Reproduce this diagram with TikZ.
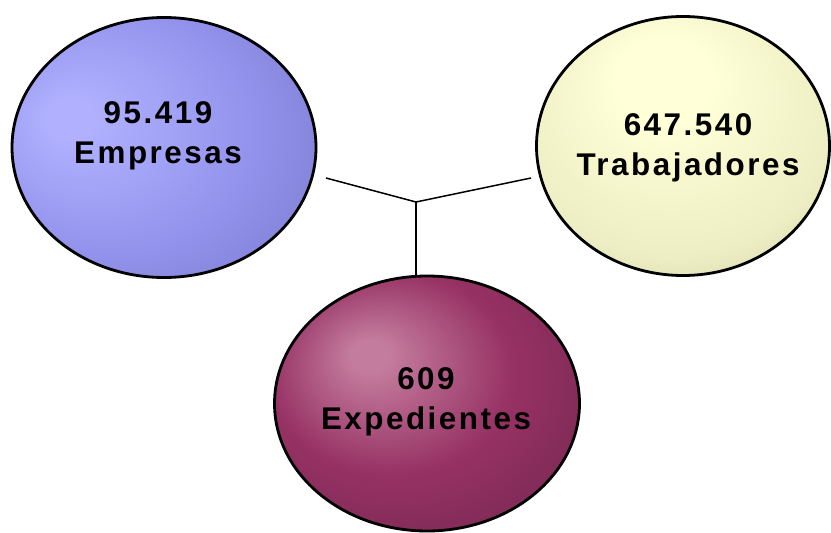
\documentclass[tikz,border=0pt]{standalone}
\usepackage{fontspec}
\newfontfamily\lblfont[LetterSpace=8]{Liberation Sans}
\usetikzlibrary{shapes.geometric}
\definecolor{empHi}{RGB}{176,176,255}
\definecolor{empMid}{RGB}{146,146,236}
\definecolor{empLo}{RGB}{104,104,182}
\definecolor{trabHi}{RGB}{255,255,216}
\definecolor{trabMid}{RGB}{238,238,196}
\definecolor{trabLo}{RGB}{178,178,140}
\definecolor{expHi}{RGB}{196,124,158}
\definecolor{expMid}{RGB}{150,50,100}
\definecolor{expLo}{RGB}{94,30,66}
\pgfdeclareradialshading{empball}{\pgfpoint{-17bp}{6bp}}{color(0bp)=(empHi); color(4bp)=(empHi); color(24bp)=(empMid); color(50bp)=(empLo)}
\pgfdeclareradialshading{trabball}{\pgfpoint{-4bp}{15bp}}{color(0bp)=(trabHi); color(8bp)=(trabHi); color(28bp)=(trabMid); color(50bp)=(trabLo)}
\pgfdeclareradialshading{expball}{\pgfpoint{-10bp}{10bp}}{color(0bp)=(expHi); color(3bp)=(expHi); color(20bp)=(expMid); color(50bp)=(expLo)}
\tikzset{
  bubble/.style = {ellipse, draw=black, line width=2.8bp, inner sep=0pt},
  lbl/.style = {align=center, inner sep=0pt, font=\lblfont\bfseries\fontsize{31.5}{40}\selectfont},
  wire/.style = {draw=black, line width=1.5bp}
}
\begin{document}
\begin{tikzpicture}[x=1bp, y=-1bp]
    \useasboundingbox (0,0) rectangle (831,533);
    \node[bubble, shading=empball, minimum width=304bp, minimum height=260bp] (emp) at (164,147.5) {};
    \node[bubble, shading=trabball, minimum width=293bp, minimum height=259bp] (trab) at (683,146) {};
    \node[bubble, shading=expball, minimum width=305bp, minimum height=255bp] (exp) at (427,403.5) {};
    \node[lbl] (empTxt) at (158,135.75) {95.419\\Empresas};
    \node[lbl] (trabTxt) at (688,147.75) {647.540\\Trabajadores};
    \node[lbl] (expTxt) at (426,402) {609\\Expedientes};
    \coordinate (hub) at (416,202);
    \coordinate (empEnd) at (326,178);
    \coordinate (trabEnd) at (531,178);
    \draw[wire] (empEnd) -- (hub) -- (trabEnd);
    \draw[wire] (hub) -- (hub |- exp.north);
\end{tikzpicture}
\end{document}
